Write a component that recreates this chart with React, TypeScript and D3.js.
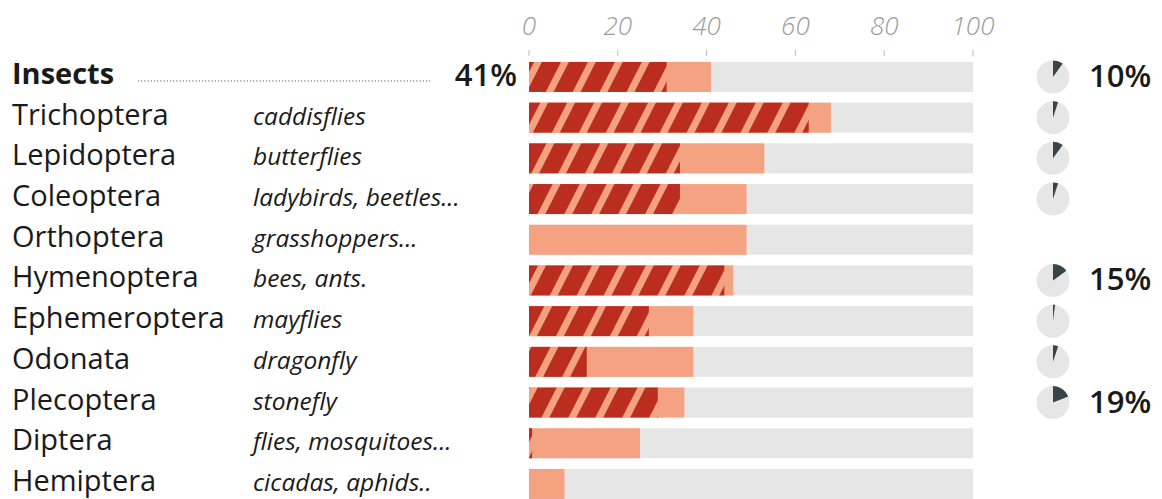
import React from "react";
import * as d3 from "d3";

const categories = ["Insects","Trichoptera","Lepidoptera","Coleoptera","Orthoptera","Hymenoptera","Ephemeroptera","Odonata","Plecoptera","Diptera","Hemiptera"];
const commonNames = ["","caddisflies","butterflies","ladybirds, beetles...","grasshoppers...","bees, ants.","mayflies","dragonfly","stonefly","flies, mosquitoes...","cicadas, aphids.."];
const totalValues = [41,68,53,49,49,46,37,37,35,25,8];
const hatchedValues = [31,63,34,34,0,44,27,13,29,0.7,0];
const pieValues = [10,5,10,5,0,15,2,5,19,0,0];
const pieLabels = ["10%","","","","","15%","","","19%","",""];
const ticks = [0,20,40,60,80,100];

const W = 1162, H = 499;

export default function App() {
  const x = d3.scaleLinear().domain([0, 100]).range([529, 973]);
  const y = d3.scaleBand().domain(categories).range([56.6, 504.3]).paddingInner(0.26).paddingOuter(0.13);
  const bh = 30;
  const cy = (c: string) => (y(c) as number) + y.bandwidth() / 2;
  const arc = d3.arc<any>().innerRadius(0).outerRadius(16.5);
  const font = "'Open Sans', sans-serif";
  return (
    <svg width={W} height={H} style={{ position: "absolute", left: 0, top: 0, background: "#fff" }}>
      <defs>
        <pattern id="hatch" patternUnits="userSpaceOnUse" width={24} height={10} patternTransform="rotate(27)">
          <rect x={0} y={0} width={24} height={10} fill="#bb2e1f" />
          <rect x={0} y={0} width={7} height={10} fill="#f4a282" />
        </pattern>
      </defs>
      {ticks.map(t => (
        <g key={t}>
          <text x={x(t)} y={35} textAnchor="middle" fontFamily={font} fontStyle="italic" fontWeight={300} fontSize={26} fill="#9a9a9a">{t}</text>
          <line x1={x(t)} x2={x(t)} y1={50} y2={56} stroke="#bbb" strokeWidth={1} />
        </g>
      ))}
      {categories.map((c, i) => {
        const yc = cy(c);
        return (
          <g key={c}>
            <rect x={x(0)} y={yc - bh / 2} width={x(100) - x(0)} height={bh} fill="#e6e6e6" />
            <rect x={x(0)} y={yc - bh / 2} width={x(totalValues[i]) - x(0)} height={bh} fill="#f4a282" />
            {hatchedValues[i] > 0 && (
              <rect x={x(0)} y={yc - bh / 2} width={x(hatchedValues[i]) - x(0)} height={bh} fill="url(#hatch)" />
            )}
            <text x={12} y={yc + 7} fontFamily={font} fontSize={29} fontWeight={i === 0 ? 700 : 400} fill="#1a1a1a">{c}</text>
            {commonNames[i] && (
              <text x={253} y={yc + 7} fontFamily={font} fontSize={24.5} fontStyle="italic" fill="#1a1a1a">{commonNames[i]}</text>
            )}
            {i === 0 && (
              <>
                <line x1={138} x2={430} y1={yc + 4} y2={yc + 4} stroke="#555" strokeWidth={1} strokeDasharray="1.2 2" />
                <text x={517} y={yc + 9} textAnchor="end" fontFamily={font} fontSize={31} fontWeight={600} fill="#1a1a1a">{totalValues[i]}%</text>
              </>
            )}
            {pieValues[i] > 0 && (
              <g transform={`translate(1053,${yc})`}>
                <circle r={16.5} fill="#e6e6e6" />
                <path d={arc({ startAngle: 0, endAngle: (pieValues[i] / 100) * 2 * Math.PI }) as string} fill="#37454a" />
              </g>
            )}
            {pieLabels[i] && (
              <text x={1089} y={yc + 10} fontFamily={font} fontSize={31} fontWeight={600} fill="#1a1a1a">{pieLabels[i]}</text>
            )}
          </g>
        );
      })}
    </svg>
  );
}
